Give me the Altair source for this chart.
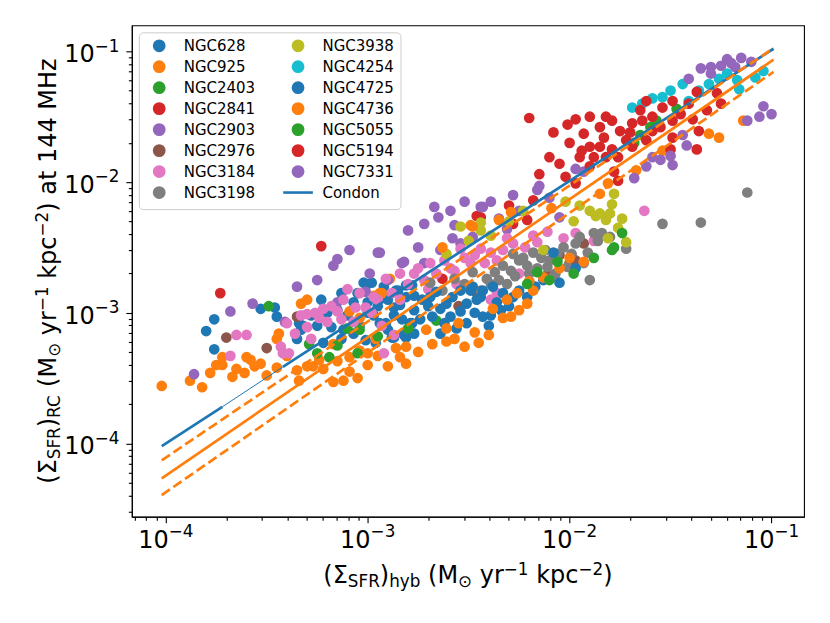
import altair as alt
import pandas as pd

# ---------------- data (log10 values) ----------------
GALAXIES = ["NGC628", "NGC925", "NGC2403", "NGC2841", "NGC2903", "NGC2976",
            "NGC3184", "NGC3198", "NGC3938", "NGC4254", "NGC4725", "NGC4736",
            "NGC5055", "NGC5194", "NGC7331"]

NGC628 = [(-3.80, -3.14), (-3.76, -3.05), (-3.76, -3.28), (-3.53, -2.97), (-3.46, -2.96),
          (-3.45, -3.03), (-3.23, -2.90), (-3.34, -3.08), (-3.33, -3.13), (-3.35, -3.20),
          (-3.25, -3.10), (-3.22, -3.23), (-3.18, -3.11), (-3.13, -3.20), (-3.13, -2.85),
          (-3.07, -2.92), (-3.02, -2.77), (-2.98, -2.77), (-3.00, -2.92), (-3.04, -3.10),
          (-2.97, -3.02), (-2.96, -3.23), (-2.86, -2.83), (-2.81, -2.79), (-2.84, -2.94),
          (-2.88, -3.19), (-2.78, -3.08), (-2.81, -3.19), (-3.00, -2.78), (-2.92, -2.80),
          (-2.77, -2.87), (-2.87, -3.02), (-2.82, -3.17), (-3.01, -3.21), (-3.07, -3.16),
          (-2.94, -3.08), (-3.32, -3.10), (-2.73, -2.90), (-2.77, -2.98), (-2.81, -2.88),
          (-2.85, -2.83), (-2.78, -2.79), (-2.87, -2.96), (-2.91, -3.08), (-2.87, -3.19),
          (-2.77, -3.16), (-2.79, -3.08), (-2.74, -3.05), (-2.83, -3.05), (-2.95, -2.95),
          (-3.10, -3.02), (-3.20, -3.00), (-3.28, -3.02), (-2.90, -2.90), (-3.05, -2.85),
          (-3.15, -2.98), (-3.00, -3.00), (-2.90, -3.13), (-3.12, -3.13)]
NGC925 = [(-4.02, -3.56), (-3.88, -3.52), (-3.82, -3.57), (-3.75, -3.40), (-3.72, -3.40),
          (-3.72, -3.34), (-3.67, -3.49), (-3.60, -3.34), (-3.61, -3.46), (-3.56, -3.41),
          (-3.53, -3.39), (-3.50, -3.48), (-3.45, -3.42), (-3.44, -3.16), (-3.45, -3.20),
          (-3.33, -2.93), (-3.30, -2.90), (-3.35, -3.44), (-3.34, -3.52), (-3.30, -3.41),
          (-3.17, -3.53), (-3.12, -3.52), (-3.05, -3.50), (-3.09, -3.45), (-2.90, -3.41),
          (-3.09, -3.34), (-3.24, -3.36), (-3.27, -3.41), (-3.22, -3.43), (-3.17, -3.24),
          (-3.09, -2.99), (-2.97, -2.87), (-2.94, -2.85), (-2.89, -2.74), (-3.04, -3.29),
          (-3.00, -3.31), (-2.96, -3.20), (-3.04, -3.04), (-2.93, -2.85), (-3.15, -3.37),
          (-3.00, -3.40), (-2.95, -3.33), (-3.40, -3.33), (-3.58, -3.36), (-3.65, -3.43),
          (-3.78, -3.46)]
NGC2403 = [(-3.49, -2.95), (-3.29, -3.24), (-3.25, -3.31), (-3.19, -3.34), (-3.05, -3.31),
           (-3.10, -3.12), (-3.04, -3.13), (-2.66, -3.06), (-3.15, -3.25), (-2.95, -3.18),
           (-2.80, -3.12)]
NGC2841 = [(-3.73, -2.85), (-3.23, -2.49), (-2.63, -2.74), (-2.46, -2.26), (-2.30, -2.18),
           (-2.28, -2.32), (-2.44, -2.27), (-2.21, -2.29), (-2.18, -2.14)]
NGC2903 = [(-3.86, -3.47), (-3.68, -2.99), (-3.57, -2.93), (-3.15, -2.59), (-3.17, -2.64),
           (-3.09, -2.52), (-2.95, -2.54), (-2.83, -2.62), (-2.99, -2.70), (-3.01, -2.84),
           (-3.15, -2.92), (-3.41, -3.07), (-1.97, -1.90), (-1.93, -1.92), (-2.15, -2.03),
           (-2.16, -2.06), (-2.28, -2.10), (-2.39, -2.15), (-2.44, -2.19), (-2.52, -2.15),
           (-2.59, -2.22), (-2.67, -2.19), (-2.72, -2.32), (-2.80, -2.37), (-2.57, -2.33),
           (-2.58, -2.43), (-2.64, -2.52), (-2.82, -2.61), (-2.72, -2.62), (-2.05, -2.27),
           (-2.31, -2.36), (-2.54, -2.47), (-2.94, -2.54), (-2.43, -2.19), (-2.65, -2.27),
           (-2.90, -2.75), (-2.75, -2.50), (-2.48, -2.42), (-2.35, -2.28), (-2.25, -2.22),
           (-2.10, -2.12), (-3.25, -2.75), (-3.35, -2.80)]
NGC2976 = [(-3.70, -3.19), (-3.50, -3.27), (-3.35, -3.03), (-2.05, -2.56), (-1.97, -2.60),
           (-1.93, -2.47), (-2.46, -2.85), (-2.11, -2.71), (-2.55, -2.95), (-2.20, -2.76),
           (-2.00, -2.62)]
NGC3184 = [(-3.65, -3.17), (-3.60, -3.17), (-3.68, -3.33), (-3.43, -3.26), (-3.42, -3.31),
           (-3.30, -3.01), (-3.30, -3.11), (-3.10, -2.82), (-3.04, -2.85), (-2.91, -2.74),
           (-2.77, -2.70), (-2.84, -2.70), (-2.92, -3.31), (-3.15, -2.99), (-3.20, -3.07),
           (-3.40, -3.08), (-3.39, -3.31), (-3.07, -3.07), (-3.01, -2.96), (-3.24, -3.04),
           (-2.44, -2.51), (-2.39, -2.54), (-2.31, -2.43), (-2.18, -2.41), (-2.11, -2.38),
           (-2.03, -2.43), (-1.97, -2.39), (-2.54, -2.51), (-2.49, -2.62), (-2.59, -2.66),
           (-2.69, -2.62), (-2.56, -2.78), (-2.39, -2.90), (-2.36, -2.85), (-2.25, -2.70),
           (-2.08, -2.73), (-1.88, -2.45), (-2.87, -3.17), (-2.84, -2.90), (-1.63, -2.22),
           (-2.75, -2.66), (-2.72, -2.75), (-2.66, -2.70), (-2.62, -2.60), (-2.57, -2.68),
           (-2.52, -2.58), (-2.47, -2.56), (-2.42, -2.62), (-2.36, -2.60), (-2.33, -2.52),
           (-2.28, -2.47), (-2.22, -2.50), (-2.16, -2.46), (-2.95, -2.90), (-2.98, -3.00),
           (-3.06, -2.96), (-3.12, -2.90), (-3.18, -2.95), (-3.26, -3.00), (-3.33, -3.02),
           (-2.80, -2.78), (-2.70, -2.82), (-2.88, -2.85), (-3.36, -3.16), (-3.28, -3.20),
           (-3.13, -3.05), (-2.97, -2.88), (-3.22, -2.97), (-2.93, -3.10)]
NGC3198 = [(-2.28, -2.55), (-2.25, -2.60), (-2.21, -2.64), (-2.18, -2.54), (-2.16, -2.66),
           (-2.11, -2.65), (-2.10, -2.60), (-2.37, -2.69), (-2.35, -2.75), (-2.39, -2.78),
           (-2.29, -2.68), (-2.31, -2.78), (-2.44, -2.83), (-2.48, -2.69), (-2.03, -2.50),
           (-1.99, -2.55), (-1.95, -2.42), (-1.91, -2.54), (-1.88, -2.39), (-1.84, -2.39),
           (-2.01, -2.65), (-1.90, -2.75), (-2.69, -2.77), (-2.63, -2.83), (-1.72, -2.51),
           (-1.12, -2.08), (-1.35, -2.31), (-1.54, -2.32), (-2.33, -2.64), (-2.27, -2.72),
           (-2.20, -2.70), (-2.14, -2.58), (-2.06, -2.55), (-2.07, -2.70), (-1.97, -2.47),
           (-1.93, -2.62), (-2.41, -2.74), (-2.52, -2.78), (-2.57, -2.74), (-2.23, -2.58),
           (-2.12, -2.52), (-1.86, -2.45), (-1.80, -2.42)]
NGC3938 = [(-1.95, -2.18), (-1.90, -2.22), (-1.85, -2.24), (-1.78, -2.09), (-1.79, -2.17),
           (-1.80, -2.24), (-1.74, -2.28), (-1.81, -2.43), (-1.72, -2.46), (-2.13, -2.52),
           (-2.23, -2.22), (-2.44, -2.31), (-2.54, -2.34), (-2.39, -2.41), (-2.44, -2.37),
           (-2.61, -2.55), (-1.87, -2.26), (-1.82, -2.29), (-2.02, -2.15), (-1.98, -2.30),
           (-1.76, -2.35), (-2.30, -2.30), (-2.50, -2.45)]
NGC4254 = [(-1.69, -1.43), (-1.64, -1.40), (-1.59, -1.36), (-1.54, -1.35), (-1.44, -1.25),
           (-1.31, -1.25), (-1.26, -1.21), (-1.17, -1.22), (-1.16, -1.29), (-1.04, -1.15),
           (-1.41, -1.38), (-1.50, -1.30), (-1.36, -1.30), (-1.22, -1.17), (-1.08, -1.20)]
NGC4725 = [(-2.08, -2.54), (-1.97, -2.66), (-2.05, -2.77), (-2.13, -2.75), (-2.25, -2.83),
           (-2.28, -2.88), (-2.33, -2.85), (-2.38, -2.80), (-2.43, -2.83), (-2.48, -2.80),
           (-2.54, -2.83), (-2.58, -2.88), (-2.61, -2.93), (-2.51, -2.93), (-2.44, -2.88),
           (-2.34, -2.98), (-2.39, -3.02), (-2.43, -3.03), (-2.40, -3.10), (-2.51, -3.08),
           (-2.54, -2.99), (-2.59, -3.03), (-2.64, -2.97), (-2.68, -3.03), (-2.64, -3.16),
           (-2.69, -2.88), (-2.49, -2.83), (-2.70, -2.95), (-2.62, -3.08), (-2.56, -3.12),
           (-2.47, -3.00), (-2.36, -2.92), (-2.30, -2.95), (-2.21, -2.88), (-2.17, -2.80),
           (-2.46, -2.90), (-2.66, -2.84)]
NGC4736 = [(-2.84, -3.34), (-2.81, -3.39), (-2.52, -3.26), (-2.61, -3.22), (-2.71, -3.13),
           (-2.81, -3.26), (-2.61, -3.12), (-2.47, -3.15), (-2.33, -3.04), (-2.29, -3.03),
           (-2.25, -2.98), (-2.31, -2.90), (-2.21, -2.93), (-2.26, -2.85), (-2.20, -2.76),
           (-2.13, -2.73), (-2.63, -2.50), (-2.48, -2.34), (-2.35, -2.29), (-2.29, -2.23),
           (-2.09, -2.20), (-1.93, -2.61), (-1.14, -1.53), (-1.31, -1.63), (-1.26, -1.66),
           (-1.54, -1.76), (-1.67, -1.91), (-1.81, -2.01), (-1.85, -2.09), (-2.49, -2.33),
           (-2.86, -3.27), (-2.75, -3.30), (-2.68, -3.24), (-2.57, -3.20), (-2.45, -3.23),
           (-2.40, -3.17), (-2.55, -3.08), (-2.38, -2.97), (-2.18, -2.83), (-2.05, -2.66),
           (-2.00, -2.58)]
NGC5055 = [(-1.74, -2.39), (-1.79, -2.52), (-2.06, -2.61), (-2.21, -2.78), (-2.16, -2.69),
           (-1.78, -2.50), (-1.47, -1.44), (-1.57, -1.53), (-1.65, -1.64), (-1.88, -2.58),
           (-1.98, -2.70), (-2.10, -2.75), (-1.60, -1.58), (-1.68, -1.70)]
NGC5194 = [(-2.20, -1.51), (-2.01, -1.56), (-1.97, -1.52), (-1.90, -1.50), (-1.82, -1.50),
           (-1.79, -1.53), (-1.85, -1.58), (-1.75, -1.61), (-1.65, -1.45), (-1.69, -1.55),
           (-1.64, -1.53), (-1.59, -1.50), (-1.54, -1.43), (-1.49, -1.38), (-1.41, -1.40),
           (-1.37, -1.31), (-1.27, -1.32), (-1.39, -1.52), (-1.36, -1.61), (-1.49, -1.53),
           (-1.59, -1.61), (-1.72, -1.68), (-1.79, -1.75), (-1.85, -1.73), (-1.90, -1.73),
           (-1.94, -1.76), (-1.95, -1.81), (-1.88, -1.81), (-1.82, -1.81), (-1.76, -1.81),
           (-1.69, -1.73), (-1.50, -1.75), (-1.37, -1.75), (-1.49, -1.66), (-2.10, -1.81),
           (-2.05, -1.86), (-2.15, -1.94), (-2.02, -1.96), (-1.97, -2.01), (-1.76, -1.99),
           (-1.93, -1.63), (-1.83, -1.66), (-1.70, -1.62), (-1.62, -1.68), (-1.55, -1.58),
           (-1.45, -1.48), (-1.32, -1.45), (-1.25, -1.40), (-1.62, -1.38), (-2.00, -1.70),
           (-2.08, -1.62), (-1.78, -1.92), (-1.90, -1.88)]
NGC7331 = [(-1.15, -1.05), (-1.20, -1.09), (-1.25, -1.11), (-1.30, -1.12), (-1.30, -1.17),
           (-1.41, -1.21), (-1.04, -1.42), (-1.00, -1.48), (-1.12, -1.53), (-1.49, -1.87),
           (-1.59, -1.81), (-1.68, -1.97), (-1.44, -1.64), (-1.55, -1.83), (-1.35, -1.13),
           (-1.22, -1.06), (-1.18, -1.12), (-1.10, -1.08), (-1.50, -1.80), (-1.42, -1.72),
           (-1.62, -1.88), (-1.06, -1.50)]

SERIES = [NGC628, NGC925, NGC2403, NGC2841, NGC2903, NGC2976, NGC3184, NGC3198,
          NGC3938, NGC4254, NGC4725, NGC4736, NGC5055, NGC5194, NGC7331]

# Condon relation (blue) – endpoints in log10, thin middle piece
CONDON_X = [-4.02, -3.72, -3.42, -0.99]
CONDON_Y = [-4.02, -3.72, -3.414, -0.98]
# fitted relation (orange) and its +/- band, endpoints in log10
FIT_X = [-4.02, -0.99]
FIT_MID = [-4.267, -1.064]
FIT_HI = [-4.129, -0.975]
FIT_LO = [-4.395, -1.157]

# tick labels (decades) and their exponents
DECADES = [1e-4, 1e-3, 1e-2, 1e-1]
EXPONENTS = ["−4", "−3", "−2", "−1"]

TAB = {"NGC628": "#1f77b4", "NGC925": "#ff7f0e", "NGC2403": "#2ca02c", "NGC2841": "#d62728",
       "NGC2903": "#9467bd", "NGC2976": "#8c564b", "NGC3184": "#e377c2", "NGC3198": "#7f7f7f",
       "NGC3938": "#bcbd22", "NGC4254": "#17becf", "NGC4725": "#1f77b4", "NGC4736": "#ff7f0e",
       "NGC5055": "#2ca02c", "NGC5194": "#d62728", "NGC7331": "#9467bd", "Condon": "#1f77b4"}

# ---------------- build tables ----------------
rows = []
for name, pts in zip(GALAXIES, SERIES):
    for lx, ly in pts:
        rows.append({"galaxy": name, "x": 10 ** lx, "y": 10 ** ly})
points = pd.DataFrame(rows)

LEG_DOMAIN = GALAXIES + ["Condon"]          # legend fills column by column
LEG_COLORS = [TAB[g] for g in LEG_DOMAIN]
LEG_SHAPES = ["M-2.9,0L2.9,0" if g == "Condon" else "circle" for g in LEG_DOMAIN]

cond_thick = pd.DataFrame({
    "x": [10 ** v for v in CONDON_X],
    "y": [10 ** v for v in CONDON_Y],
    "seg": ["a", "a", "c", "c"], "galaxy": ["Condon"] * 4})
cond_thin = pd.DataFrame({
    "x": [10 ** CONDON_X[1], 10 ** CONDON_X[2]],
    "y": [10 ** CONDON_Y[1], 10 ** CONDON_Y[2]], "galaxy": ["Condon"] * 2})

def fit_df(yv):
    return pd.DataFrame({"x": [10 ** v for v in FIT_X], "y": [10 ** v for v in yv]})

# ---------------- scales / axes ----------------
W, H = 673, 492
xs = alt.Scale(type="log", domain=[10 ** -4.168, 10 ** -0.839], nice=False)
ys = alt.Scale(type="log", domain=[10 ** -4.561, 10 ** -0.801], nice=False)

def ticks(lo, hi):
    out = []
    for e in range(-6, 1):
        for k in range(1, 10):
            v = k * 10.0 ** e
            if lo <= v <= hi:
                out.append(float(f"{v:.10g}"))
    return out

LOG10 = "log(datum.value)/LN10"
IS_MAJOR = f"abs({LOG10} - round({LOG10})) < 0.01"
MINOR_DASH = {"condition": {"test": f"!({IS_MAJOR})", "value": [3.5, 20]}, "value": [6, 0]}

common_axis = dict(title=None, grid=False, tickSize=6, tickWidth=1.1, tickColor="black",
                   domainColor="black", domainWidth=1.1, labels=False, tickDash=MINOR_DASH)
xaxis = alt.Axis(values=ticks(10 ** -4.168, 10 ** -0.839), **common_axis)
yaxis = alt.Axis(values=ticks(10 ** -4.561, 10 ** -0.801), **common_axis)

X = alt.X("x:Q", scale=xs, axis=xaxis)
Y = alt.Y("y:Q", scale=ys, axis=yaxis)

LEG_FONT = 15
LEG_STYLE = dict(
    orient="top-left", offset=7.3, padding=5.9, columns=2,
    symbolSize=105, symbolOffset=7, labelOffset=17, columnPadding=22, rowPadding=0,
    labelFont="DejaVu Sans", labelFontSize=LEG_FONT, labelColor="black",
    strokeColor="#cccccc", fillColor="rgba(255,255,255,0.8)", cornerRadius=4,
    symbolOpacity=1, symbolStrokeWidth=2.6,
)
legend = alt.Legend(title=None, **LEG_STYLE)
COLOR = alt.Color("galaxy:N", scale=alt.Scale(domain=LEG_DOMAIN, range=LEG_COLORS), legend=legend)
SHAPE = alt.Shape("galaxy:N", scale=alt.Scale(domain=LEG_DOMAIN, range=LEG_SHAPES), legend=legend)

pts_layer = alt.Chart(points).mark_point(filled=True, size=115, opacity=1, strokeWidth=0).encode(
    x=X, y=Y, color=COLOR, shape=SHAPE)
condon_thick = alt.Chart(cond_thick).mark_line(strokeWidth=2.7).encode(
    x=X, y=Y, color=COLOR, detail="seg:N")
condon_thin = alt.Chart(cond_thin).mark_line(strokeWidth=1).encode(x=X, y=Y, color=COLOR)
fit_mid = alt.Chart(fit_df(FIT_MID)).mark_line(color="#ff7f0e", strokeWidth=2.7).encode(x=X, y=Y)
fit_hi = alt.Chart(fit_df(FIT_HI)).mark_line(color="#ff7f0e", strokeWidth=2.7,
                                              strokeDash=[9.9, 4.3]).encode(x=X, y=Y)
fit_lo = alt.Chart(fit_df(FIT_LO)).mark_line(color="#ff7f0e", strokeWidth=2.7,
                                              strokeDash=[9.9, 4.3]).encode(x=X, y=Y)

# ---------------- tick labels "10" + superscript exponent, placed by the scales ----------------
FN, FS = 24, 16.8
TXT = dict(font="DejaVu Sans", color="black", baseline="alphabetic")
xlab = pd.DataFrame({"x": DECADES, "base": ["10"] * 4, "exp": EXPONENTS})
ylab = pd.DataFrame({"y": DECADES, "base": ["10"] * 4, "exp": EXPONENTS})
xlab_base = alt.Chart(xlab).mark_text(align="right", dx=2.9, fontSize=FN, **TXT).encode(
    x=X, y=alt.value(523.3), text="base:N")
xlab_exp = alt.Chart(xlab).mark_text(align="left", dx=2.9, fontSize=FS, **TXT).encode(
    x=X, y=alt.value(512.3), text="exp:N")
EXPW = (0.838 + 0.636) * FS
ylab_base = alt.Chart(ylab).mark_text(align="right", dy=11, fontSize=FN, **TXT).encode(
    y=Y, x=alt.value(-12.5 - EXPW), text="base:N")
ylab_exp = alt.Chart(ylab).mark_text(align="right", dy=0.3, fontSize=FS, **TXT).encode(
    y=Y, x=alt.value(-12.5), text="exp:N")

# ---------------- axis titles with sub/superscripts ----------------
EM = {"(": 0.390, ")": 0.390, "Σ": 0.632, "S": 0.635, "F": 0.575, "R": 0.695, "C": 0.698,
      "h": 0.634, "y": 0.592, "b": 0.635, " ": 0.318, "M": 0.863, "⊙": 0.838, "r": 0.411,
      "−": 0.838, "1": 0.636, "2": 0.636, "4": 0.636, "k": 0.579, "p": 0.635, "c": 0.550,
      "a": 0.613, "t": 0.392, "H": 0.752, "z": 0.525}
SHIFT = {"n": 0, "b": 4.0, "p": -8.0}

def size_of(kind):
    return FN if kind == "n" else FS

def width(s, kind):
    return sum(EM[c] for c in s) * size_of(kind)

XT = [("(Σ", "n"), ("SFR", "b"), (")", "n"), ("hyb", "b"), (" (M", "n"), ("⊙", "b"),
      (" yr", "n"), ("−1", "p"), (" kpc", "n"), ("−2", "p"), (")", "n")]
YT = [("(Σ", "n"), ("SFR", "b"), (")", "n"), ("RC", "b"), (" (M", "n"), ("⊙", "b"),
      (" yr", "n"), ("−1", "p"), (" kpc", "n"), ("−2", "p"), (")", "n"),
      (" at", "n"), (" 144", "n"), (" MHz", "n")]

def piece(txt, x, y, size, angle=0):
    mk = dict(align="left", baseline="alphabetic", font="DejaVu Sans", fontSize=size,
              color="black")
    if angle:
        mk["angle"] = angle
    return alt.Chart(pd.DataFrame({"t": [txt]})).mark_text(**mk).encode(
        x=alt.value(x), y=alt.value(y), text="t:N")

title_layers = []
total = sum(width(s, k) for s, k in XT)
cur = W / 2 - total / 2
for s, k in XT:
    lead = len(s) - len(s.lstrip())
    title_layers.append(piece(s.lstrip(), cur + lead * EM[" "] * size_of(k),
                              558 + SHIFT[k], size_of(k)))
    cur += width(s, k)

total = sum(width(s, k) for s, k in YT)
cur = H / 2 + total / 2
for s, k in YT:
    lead = len(s) - len(s.lstrip())
    title_layers.append(piece(s.lstrip(), -75.5 + SHIFT[k],
                              cur - lead * EM[" "] * size_of(k), size_of(k), angle=270))
    cur -= width(s, k)

chart = alt.layer(pts_layer, condon_thick, condon_thin, fit_mid, fit_hi, fit_lo,
                  xlab_base, xlab_exp, ylab_base, ylab_exp,
                  *title_layers).properties(
    width=W, height=H,
    padding={"left": 124, "top": 17, "right": 18, "bottom": 98},
    autosize=alt.AutoSizeParams(type="none"),
    background="white",
).configure_view(stroke="black", strokeWidth=1.1).configure_legend(
    labelFont="DejaVu Sans", labelFontSize=LEG_FONT, labelColor="black")

chart.save("out.html", embed_options={"renderer": "svg", "actions": False})
